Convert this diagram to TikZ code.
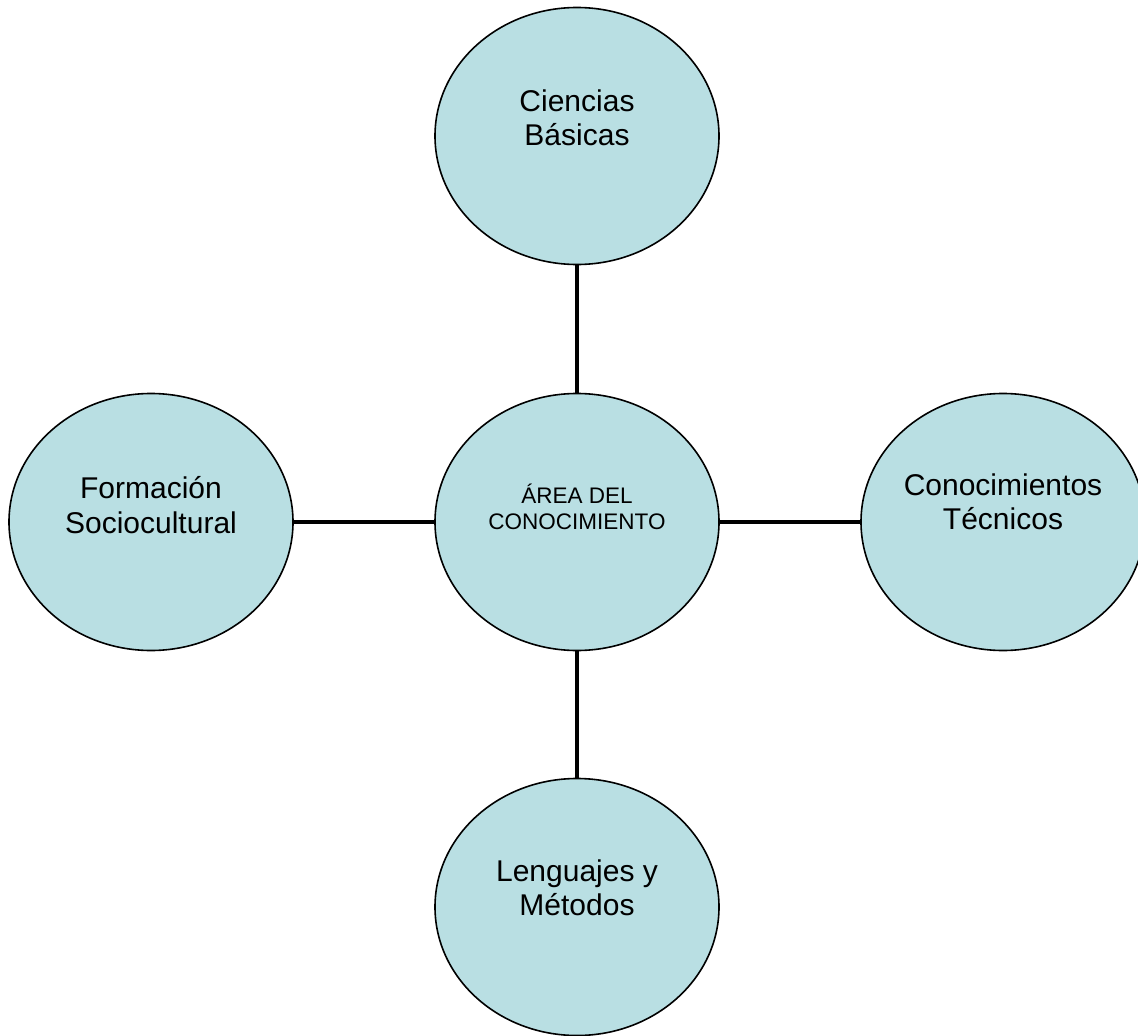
\documentclass[tikz,border=0pt]{standalone}
\usepackage{fontspec}
\setmainfont{Liberation Sans}
\usetikzlibrary{shapes.geometric}
\definecolor{bubblefill}{RGB}{185,223,227}
\tikzset{
  bubble/.style={ellipse, draw=black, line width=1.6pt, fill=bubblefill,
    minimum width=284pt, minimum height=257pt, inner sep=0pt},
  biglabel/.style={font=\fontsize{30}{34.5}\selectfont, align=center, inner sep=0pt, text=black},
  smalllabel/.style={font=\fontsize{22.5}{25.9}\selectfont, align=center, inner sep=0pt, text=black},
  link/.style={line width=4.8pt, black}
}
\begin{document}
\begin{tikzpicture}[x=1pt,y=-1pt]
\useasboundingbox (0,0) rectangle (1138,1036);
\fill[white] (0,0) rectangle (1138,1036);
\begin{scope}
\clip (0,0) rectangle (1138,1036);
\node[bubble] (top) at (577,136) {};
\node[bubble] (mid) at (577,522) {};
\node[bubble] (left) at (151,522) {};
\node[bubble] (right) at (1003,522) {};
\node[bubble] (bot) at (577,907) {};
\end{scope}
\draw[link] (top.south) -- (mid.north);
\draw[link] (mid.south) -- (bot.north);
\draw[link] (left.east) -- (mid.west);
\draw[link] (mid.east) -- (right.west);
\node[biglabel] (ttop) at (577,118) {Ciencias\\Básicas};
\node[biglabel] (tleft) at (151,505) {Formación\\Sociocultural};
\node[biglabel] (tright) at (1003,502) {Conocimientos\\Técnicos};
\node[biglabel] (tbot) at (577,888) {Lenguajes y\\Métodos};
\node[smalllabel] (tmid) at (577,507) {ÁREA DEL\\CONOCIMIENTO};
\end{tikzpicture}
\end{document}
